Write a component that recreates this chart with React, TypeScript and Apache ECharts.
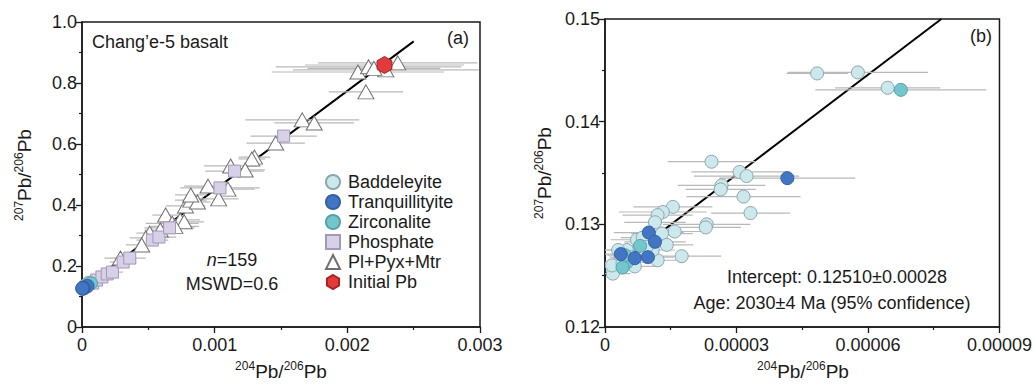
import React, { useEffect, useRef } from "react";
import * as echarts from "echarts";

const FONT = "'Liberation Sans', Arial, sans-serif";

// Panel (b) data: [x (204Pb/206Pb), y (207Pb/206Pb), xErr, yErr]
const baddeleyite: number[][] = [
  [4.84e-5, 0.1447, 0.7e-5, 0.0006], [5.77e-5, 0.1448, 1.6e-5, 0.0006], [6.45e-5, 0.1433, 1.2e-5, 0.0005],
  [2.43e-5, 0.1361, 1.0e-5, 0.0006], [3.07e-5, 0.1351, 1.1e-5, 0.0005], [3.23e-5, 0.1347, 1.2e-5, 0.0005],
  [2.66e-5, 0.1338, 1.0e-5, 0.0005], [2.64e-5, 0.1334, 0.8e-5, 0.0005], [3.16e-5, 0.1327, 1.3e-5, 0.0005],
  [3.32e-5, 0.1311, 0.9e-5, 0.0005], [2.32e-5, 0.13, 1.0e-5, 0.0004], [2.3e-5, 0.1297, 0.8e-5, 0.0004],
  [1.55e-5, 0.1317, 0.9e-5, 0.0004], [1.32e-5, 0.1312, 1.0e-5, 0.0004], [1.2e-5, 0.1309, 0.8e-5, 0.0004],
  [1.14e-5, 0.1302, 0.7e-5, 0.0004], [1.59e-5, 0.1293, 0.8e-5, 0.0004], [1.3e-5, 0.1291, 0.7e-5, 0.0004],
  [1.75e-5, 0.1269, 0.9e-5, 0.0004], [1.41e-5, 0.128, 0.6e-5, 0.0004], [1.2e-5, 0.1265, 0.6e-5, 0.0004],
  [0.68e-5, 0.1259, 0.5e-5, 0.0003], [0.18e-5, 0.1252, 0.4e-5, 0.0003], [0.16e-5, 0.126, 0.4e-5, 0.0003],
  [0.5e-5, 0.1275, 0.5e-5, 0.0003], [0.73e-5, 0.1285, 0.6e-5, 0.0003], [0.86e-5, 0.1287, 0.5e-5, 0.0003],
  [1.09e-5, 0.1275, 0.5e-5, 0.0003], [0.3e-5, 0.1275, 0.4e-5, 0.0003], [0.6e-5, 0.1268, 0.5e-5, 0.0003],
  [0.4e-5, 0.1262, 0.4e-5, 0.0003], [0.95e-5, 0.1278, 0.6e-5, 0.0003],
];
const tranquillityite: number[][] = [
  [4.16e-5, 0.1345, 1.55e-5, 0.0004], [1.0e-5, 0.1292, 0.8e-5, 0.0004], [1.14e-5, 0.1283, 0.7e-5, 0.0004],
  [0.98e-5, 0.1268, 0.6e-5, 0.0003], [0.68e-5, 0.1267, 0.5e-5, 0.0003], [0.36e-5, 0.1271, 0.5e-5, 0.0003],
];
const zirconalite: number[][] = [
  [6.75e-5, 0.1431, 1.95e-5, 0.0005], [0.8e-5, 0.1279, 0.6e-5, 0.0003], [0.5e-5, 0.1263, 0.5e-5, 0.0003],
  [0.45e-5, 0.127, 0.4e-5, 0.0003], [0.4e-5, 0.1258, 0.4e-5, 0.0003],
];
// Panel (a) only: [x, y, xErr, yErr]
const phosphate: number[][] = [
  [0.00008, 0.144, 0.00005, 0], [0.00011, 0.154, 0.00006, 0], [0.00015, 0.164, 0.00006, 0],
  [0.00019, 0.174, 0.00007, 0], [0.00023, 0.18, 0.00008, 0], [0.00031, 0.213, 0.0001, 0],
  [0.00036, 0.226, 0.00012, 0], [0.00053, 0.285, 0.00012, 0], [0.00058, 0.295, 0.00013, 0],
  [0.00066, 0.325, 0.00019, 0], [0.00104, 0.456, 0.0003, 0], [0.00115, 0.511, 0.00022, 0],
  [0.00152, 0.626, 0.00025, 0],
];
const plPyxMtr: number[][] = [
  [0.00208, 0.836, 0.00065, 0], [0.00216, 0.853, 0.0007, 0], [0.00229, 0.843, 0.0007, 0],
  [0.00238, 0.866, 0.0006, 0], [0.0022, 0.848, 0.0005, 0], [0.00214, 0.771, 0.00028, 0],
  [0.00166, 0.679, 0.00043, 0], [0.00175, 0.669, 0.0003, 0], [0.00146, 0.603, 0.00022, 0],
  [0.0013, 0.557, 0.00012, 0], [0.00128, 0.551, 0.0001, 0], [0.00112, 0.528, 0.0002, 0],
  [0.00123, 0.515, 0.00015, 0], [0.00095, 0.462, 0.00018, 0], [0.0011, 0.452, 0.0002, 0],
  [0.00103, 0.42, 0.00015, 0], [0.00078, 0.397, 0.00015, 0], [0.00082, 0.416, 0.00012, 0],
  [0.00087, 0.41, 0.0001, 0], [0.00082, 0.433, 0.00012, 0], [0.00074, 0.351, 0.00015, 0],
  [0.00077, 0.345, 0.00015, 0], [0.00063, 0.367, 0.0001, 0], [0.00059, 0.318, 0.00012, 0],
  [0.00051, 0.308, 0.0001, 0], [0.00048, 0.292, 0.00012, 0], [0.00045, 0.269, 0.00012, 0],
  [0.00029, 0.226, 0.00012, 0], [0.00068, 0.34, 0.0002, 0], [0.0007, 0.33, 0.00018, 0],
];
const initialPb: number[][] = [[0.00228, 0.859, 0.0006, 0]];

// Regression line: intercept and slope
const intercept = 0.1251;
const slope = 324.5;
const lineA: number[][] = [[0, intercept], [0.0025, intercept + slope * 0.0025]];
const lineB: number[][] = [[0, intercept], [(0.15 - intercept) / slope, 0.15]];

const xTicksA = [0, 0.001, 0.002, 0.003];
const yTicksA = [0, 0.2, 0.4, 0.6, 0.8, 1.0];
const xTicksB = [0, 0.00003, 0.00006, 0.00009];
const yTicksB = [0.12, 0.13, 0.14, 0.15];

const HEX = "path://M0,-1 L0.866,-0.5 L0.866,0.5 L0,1 L-0.866,0.5 L-0.866,-0.5 Z";

const styles: Record<string, any> = {
  Baddeleyite: { symbol: "circle", color: "#cde8ec", border: "#8aa7ab" },
  Tranquillityite: { symbol: "circle", color: "#4275c3", border: "#3461a3" },
  Zirconalite: { symbol: "circle", color: "#74c6cd", border: "#56a2a8" },
  Phosphate: { symbol: "rect", color: "#d7d0e6", border: "#a198ba" },
  "Pl+Pyx+Mtr": { symbol: "triangle", color: "#ffffff", border: "#707070" },
  "Initial Pb": { symbol: HEX, color: "#e23b3b", border: "#a82020" },
};

function errSeries(data: number[][], idx: number): any {
  return {
    type: "custom",
    xAxisIndex: idx,
    yAxisIndex: idx,
    z: 2,
    silent: true,
    clip: true,
    data,
    renderItem: (_p: any, api: any) => {
      const x = api.value(0), y = api.value(1), xe = api.value(2), ye = api.value(3);
      const a = api.coord([x - xe, y]);
      const b = api.coord([x + xe, y]);
      const children: any[] = [
        { type: "line", shape: { x1: a[0], y1: a[1], x2: b[0], y2: b[1] }, style: { stroke: "#b9b9b9", lineWidth: 1.2 } },
      ];
      if (ye > 0) {
        const c = api.coord([x, y - ye]);
        const d = api.coord([x, y + ye]);
        children.push({ type: "line", shape: { x1: c[0], y1: c[1], x2: d[0], y2: d[1] }, style: { stroke: "#b9b9b9", lineWidth: 1.2 } });
      }
      return { type: "group", children };
    },
  };
}

function pts(name: string, data: number[][], idx: number, size: any): any {
  const s = styles[name];
  return {
    type: "scatter",
    name,
    xAxisIndex: idx,
    yAxisIndex: idx,
    z: 3,
    symbol: s.symbol,
    symbolKeepAspect: true,
    symbolSize: size,
    data: data.map((d) => [d[0], d[1]]),
    itemStyle: { color: s.color, borderColor: s.border, borderWidth: 1, opacity: 1 },
  };
}

function axisCommon(min: number, max: number, interval: number, fmt: (v: number) => string, margin: number): any {
  return {
    type: "value",
    min,
    max,
    interval,
    axisLine: { show: true, onZero: false, lineStyle: { color: "#1a1a1a", width: 1.5 } },
    axisTick: { show: true, inside: false, length: 6, lineStyle: { color: "#1a1a1a", width: 1.3 } },
    minorTick: { show: true, splitNumber: 2, length: 3, lineStyle: { color: "#1a1a1a", width: 1.2 } },
    splitLine: { show: false },
    axisLabel: { fontSize: 18, color: "#1a1a1a", fontFamily: FONT, margin, formatter: fmt },
  };
}

const supRich = {
  sup: { fontSize: 12, fontFamily: FONT, color: "#1a1a1a", verticalAlign: "top", lineHeight: 12 },
  m: { fontSize: 19, fontFamily: FONT, color: "#1a1a1a", lineHeight: 22 },
};

function label(x: number, y: number, text: string, rotate = 0): any {
  return {
    type: "text",
    x,
    y,
    rotation: rotate,
    style: {
      text,
      rich: supRich,
      align: "center",
      verticalAlign: "middle",
      fill: "#1a1a1a",
    },
  };
}

function plain(x: number, y: number, text: string, align = "center", size = 18): any {
  return {
    type: "text",
    x,
    y,
    style: { text, align, verticalAlign: "middle", fontSize: size, fontFamily: FONT, fill: "#1a1a1a" },
  };
}

export default function App() {
  const ref = useRef<HTMLDivElement>(null);
  useEffect(() => {
    if (!ref.current) return;
    const chart = echarts.init(ref.current, null, { renderer: "svg" });
    const fmtA1 = (v: number) => (v === 0 ? "0" : String(Number(v.toFixed(3))));
    const fmtA2 = (v: number) => (v === 0 ? "0" : v.toFixed(1));
    const fmtB1 = (v: number) => (v === 0 ? "0" : v.toFixed(5));
    const fmtB2 = (v: number) => v.toFixed(2);
    const option: any = {
      animation: false,
      textStyle: { fontFamily: FONT },
      grid: [
        { left: 82, top: 22, width: 398, height: 305, show: true, borderColor: "#1a1a1a", borderWidth: 1.5, backgroundColor: "transparent" },
        { left: 605, top: 19, width: 396, height: 308, show: true, borderColor: "#1a1a1a", borderWidth: 1.5, backgroundColor: "transparent" },
      ],
      xAxis: [
        { gridIndex: 0, ...axisCommon(xTicksA[0], xTicksA[xTicksA.length - 1], 0.001, fmtA1, 9) },
        { gridIndex: 1, ...axisCommon(xTicksB[0], xTicksB[xTicksB.length - 1], 0.00003, fmtB1, 9) },
      ],
      yAxis: [
        { gridIndex: 0, ...axisCommon(yTicksA[0], yTicksA[yTicksA.length - 1], 0.2, fmtA2, 5) },
        { gridIndex: 1, ...axisCommon(yTicksB[0], yTicksB[yTicksB.length - 1], 0.01, fmtB2, 5) },
      ],
      legend: {
        left: 325,
        top: 172,
        orient: "vertical",
        itemWidth: 14,
        itemHeight: 14,
        itemGap: 0,
        padding: 0,
        selectedMode: false,
        data: ["Baddeleyite", "Tranquillityite", "Zirconalite", "Phosphate", "Pl+Pyx+Mtr", "Initial Pb"],
        textStyle: { fontSize: 18, color: "#1a1a1a", fontFamily: FONT, lineHeight: 20, padding: [0, 0, 0, 3] },
      },
      series: [
        { type: "line", xAxisIndex: 0, yAxisIndex: 0, data: lineA, symbol: "none", z: 1, silent: true, lineStyle: { color: "#000", width: 2 } },
        { type: "line", xAxisIndex: 1, yAxisIndex: 1, data: lineB, symbol: "none", z: 1, silent: true, lineStyle: { color: "#000", width: 2 } },
        errSeries(plPyxMtr, 0),
        errSeries(phosphate, 0),
        errSeries(initialPb, 0),
        errSeries(baddeleyite, 0),
        errSeries(tranquillityite, 0),
        errSeries(zirconalite, 0),
        errSeries(baddeleyite, 1),
        errSeries(tranquillityite, 1),
        errSeries(zirconalite, 1),
        pts("Pl+Pyx+Mtr", plPyxMtr, 0, [16, 14]),
        pts("Phosphate", phosphate, 0, 12),
        pts("Baddeleyite", baddeleyite, 0, 13),
        pts("Zirconalite", zirconalite, 0, 13),
        pts("Tranquillityite", tranquillityite, 0, 13),
        pts("Initial Pb", initialPb, 0, 17),
        pts("Baddeleyite", baddeleyite, 1, 13),
        pts("Zirconalite", zirconalite, 1, 13),
        pts("Tranquillityite", tranquillityite, 1, 13),
      ],
      graphic: [
        plain(92, 42, "Chang\u2019e-5 basalt", "left"),
        plain(458, 38, "(a)"),
        plain(981, 36, "(b)"),
        {
          type: "text",
          x: 232,
          y: 260,
          style: {
            text: "{i|n}=159",
            rich: { i: { fontStyle: "italic", fontSize: 18, fontFamily: FONT, fill: "#1a1a1a" } },
            align: "center",
            verticalAlign: "middle",
            fontSize: 18,
            fontFamily: FONT,
            fill: "#1a1a1a",
          },
        },
        plain(232, 284, "MSWD=0.6"),
        plain(837, 277, "Intercept: 0.12510\u00b10.00028"),
        plain(832, 303, "Age: 2030\u00b14 Ma (95% confidence)"),
        label(281, 371, "{sup|204}{m|Pb/}{sup|206}{m|Pb}"),
        label(803, 371, "{sup|204}{m|Pb/}{sup|206}{m|Pb}"),
        label(24, 175, "{sup|207}{m|Pb/}{sup|206}{m|Pb}", Math.PI / 2),
        label(544, 173, "{sup|207}{m|Pb/}{sup|206}{m|Pb}", Math.PI / 2),
      ],
    };
    chart.setOption(option);
    return () => chart.dispose();
  }, []);
  return (
    <div
      ref={ref}
      style={{ position: "fixed", left: 0, top: 0, width: 1035, height: 384, background: "#fff" }}
    />
  );
}
